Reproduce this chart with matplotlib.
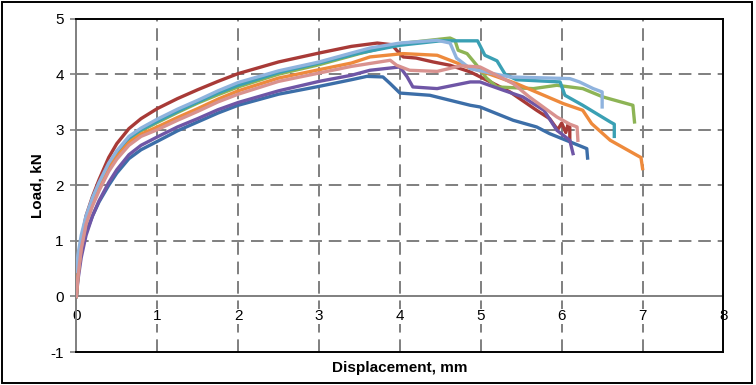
import numpy as np
import matplotlib.pyplot as plt
from matplotlib.patches import Rectangle

plt.rcParams['font.family'] = ['Liberation Sans', 'DejaVu Sans']
plt.rcParams['axes.unicode_minus'] = False

# load-displacement curves, one pair of lists per specimen
x_red = [0, 0.02, 0.06, 0.12, 0.2, 0.28, 0.4, 0.5, 0.65, 0.8, 1.0, 1.25, 1.5, 1.75, 2.0, 2.5, 3.0, 3.4,
         3.72, 3.9, 3.96, 4.04, 4.2, 4.41, 4.62, 4.87, 5.2, 5.36, 5.69, 5.85, 5.95, 6.0, 6.05, 6.08, 6.1, 6.1]
y_red = [0, 0.45, 1.0, 1.45, 1.8, 2.1, 2.5, 2.75, 3.02, 3.2, 3.38, 3.56, 3.72, 3.87, 4.01, 4.22, 4.38, 4.5,
         4.56, 4.53, 4.43, 4.31, 4.29, 4.22, 4.16, 4.04, 3.8, 3.68, 3.35, 3.2, 3.0, 3.12, 2.95, 3.1, 3.05, 2.8]

x_blue = [0, 0.02, 0.06, 0.12, 0.2, 0.28, 0.4, 0.5, 0.65, 0.8, 1.0, 1.25, 1.5, 1.75, 2.0, 2.5, 3.0, 3.4,
          3.59, 3.79, 3.88, 4.0, 4.37, 4.62, 4.87, 4.99, 5.4, 5.69, 5.85, 6.31, 6.32]
y_blue = [0.3, 0.5, 0.82, 1.15, 1.45, 1.7, 2.0, 2.22, 2.48, 2.64, 2.79, 2.98, 3.14, 3.3, 3.44, 3.64, 3.78, 3.9,
          3.96, 3.95, 3.83, 3.66, 3.62, 3.53, 3.44, 3.41, 3.17, 3.05, 2.93, 2.66, 2.49]

x_green = [0, 0.02, 0.06, 0.12, 0.2, 0.28, 0.4, 0.5, 0.65, 0.8, 1.0, 1.25, 1.5, 1.75, 2.0, 2.5, 3.0, 3.5,
           4.0, 4.62, 4.68, 4.72, 4.83, 4.95, 5.07, 5.2, 5.65, 5.94, 6.26, 6.51, 6.88, 6.9]
y_green = [0, 0.4, 0.92, 1.38, 1.72, 2.0, 2.35, 2.58, 2.83, 2.98, 3.13, 3.31, 3.48, 3.63, 3.77, 4.0, 4.17, 4.37,
           4.55, 4.65, 4.61, 4.43, 4.37, 4.16, 3.93, 3.77, 3.74, 3.8, 3.74, 3.59, 3.44, 3.14]

x_purple = [0, 0.02, 0.06, 0.12, 0.2, 0.28, 0.4, 0.5, 0.65, 0.8, 1.0, 1.25, 1.5, 1.75, 2.0, 2.5, 3.0, 3.4,
            3.63, 4.0, 4.09, 4.16, 4.46, 4.87, 4.99, 5.28, 5.52, 5.78, 5.94, 6.1, 6.14]
y_purple = [0, 0.3, 0.7, 1.1, 1.45, 1.72, 2.05, 2.28, 2.55, 2.72, 2.87, 3.05, 3.2, 3.36, 3.49, 3.7, 3.87, 3.98,
            4.07, 4.13, 3.95, 3.77, 3.74, 3.86, 3.86, 3.71, 3.59, 3.35, 2.99, 2.81, 2.57]

x_teal = [0, 0.02, 0.06, 0.12, 0.2, 0.28, 0.4, 0.5, 0.65, 0.8, 1.0, 1.25, 1.5, 1.75, 2.0, 2.5, 3.0, 3.5,
          4.0, 4.5, 4.96, 5.05, 5.2, 5.3, 5.44, 5.98, 6.04, 6.26, 6.6, 6.65, 6.65]
y_teal = [0, 0.4, 0.95, 1.4, 1.75, 2.02, 2.37, 2.6, 2.85, 3.0, 3.15, 3.33, 3.5, 3.66, 3.8, 4.03, 4.2, 4.38,
          4.52, 4.6, 4.6, 4.34, 4.24, 4.0, 3.9, 3.86, 3.62, 3.44, 3.14, 3.1, 2.88]

x_orange = [0, 0.02, 0.06, 0.12, 0.2, 0.28, 0.4, 0.5, 0.65, 0.8, 1.0, 1.25, 1.5, 1.75, 2.0, 2.5, 3.0, 3.4,
            3.63, 4.04, 4.46, 4.62, 4.83, 5.03, 5.44, 5.73, 6.02, 6.26, 6.37, 6.6, 6.93, 6.98, 7.0]
y_orange = [0, 0.38, 0.88, 1.33, 1.67, 1.95, 2.3, 2.52, 2.77, 2.92, 3.05, 3.22, 3.38, 3.55, 3.7, 3.93, 4.08, 4.2,
            4.31, 4.37, 4.34, 4.25, 4.13, 4.04, 3.83, 3.65, 3.47, 3.35, 3.11, 2.81, 2.54, 2.5, 2.3]

x_lblue = [0, 0.02, 0.06, 0.12, 0.2, 0.28, 0.4, 0.5, 0.65, 0.8, 1.0, 1.25, 1.5, 1.75, 2.0, 2.5, 3.0, 3.4,
           3.63, 4.0, 4.46, 4.62, 4.7, 4.87, 5.15, 5.36, 6.1, 6.22, 6.39, 6.5, 6.5]
y_lblue = [0.45, 0.75, 1.1, 1.45, 1.78, 2.05, 2.4, 2.62, 2.88, 3.03, 3.19, 3.37, 3.53, 3.7, 3.85, 4.06, 4.22, 4.38,
           4.47, 4.56, 4.61, 4.56, 4.29, 4.1, 4.01, 3.95, 3.92, 3.86, 3.74, 3.68, 3.41]

x_pink = [0, 0.02, 0.06, 0.12, 0.2, 0.28, 0.4, 0.5, 0.65, 0.8, 1.0, 1.25, 1.5, 1.75, 2.0, 2.5, 3.0, 3.4,
          3.88, 3.96, 4.12, 4.46, 4.75, 4.99, 5.1, 5.4, 5.6, 5.94, 6.1, 6.19, 6.2]
y_pink = [0, 0.35, 0.85, 1.3, 1.63, 1.9, 2.25, 2.47, 2.72, 2.88, 3.0, 3.17, 3.33, 3.5, 3.64, 3.87, 4.02, 4.14,
          4.25, 4.16, 4.07, 4.05, 4.15, 4.13, 4.05, 3.83, 3.59, 3.23, 3.1, 3.05, 2.81]

x_ticks = [0, 1, 2, 3, 4, 5, 6, 7, 8]
y_ticks = [-1, 0, 1, 2, 3, 4, 5]

fig = plt.figure(figsize=(7.56, 3.85), dpi=100)
ax = fig.add_axes([0.101, 0.0857, 0.856, 0.866])

grid_kw = dict(color='#7f7f7f', lw=1.4, ls=(0, (6.5, 3.5)), zorder=1)
for gx in x_ticks[1:-1]:
    ax.axvline(gx, **grid_kw)
for gy in y_ticks[2:-1]:
    ax.axhline(gy, **grid_kw)
ax.axhline(0, color='#7f7f7f', lw=1.4, zorder=1)

lw = 2.4
ax.plot(x_red, y_red, color='#A83A37', lw=lw, zorder=3)
ax.plot(x_blue, y_blue, color='#3C6EA8', lw=lw, zorder=3)
ax.plot(x_green, y_green, color='#8DB455', lw=lw, zorder=3)
ax.plot(x_purple, y_purple, color='#6F56A6', lw=lw, zorder=3)
ax.plot(x_teal, y_teal, color='#3AA0B4', lw=lw, zorder=3)
ax.plot(x_orange, y_orange, color='#EE8A3C', lw=lw, zorder=3)
ax.plot(x_lblue, y_lblue, color='#8FB3DE', lw=lw, zorder=3)
ax.plot(x_pink, y_pink, color='#D9928F', lw=lw, zorder=3)

ax.set_xlim(0, 8)
ax.set_ylim(-1, 5)
ax.set_yticks(y_ticks)
ax.set_xticks(x_ticks)
ax.set_xticklabels([])
for tx in x_ticks:
    ax.text(tx, -0.36, str(tx), ha='center', va='center', fontsize=11, zorder=2,
            bbox=dict(facecolor='white', edgecolor='none', pad=0.5))
ax.tick_params(axis='x', length=0)
ax.tick_params(axis='y', length=4, width=1.2, color='#7f7f7f', labelsize=11, pad=5)

for s in ['top', 'right', 'bottom']:
    ax.spines[s].set_color('black')
    ax.spines[s].set_linewidth(1.4)
ax.spines['left'].set_color('#7f7f7f')
ax.spines['left'].set_linewidth(1.4)

ax.set_xlabel('Displacement, mm', fontsize=11, fontweight='bold', labelpad=3)
ax.set_ylabel('Load, kN', fontsize=11, fontweight='bold', labelpad=4)

fig.patches.append(Rectangle((1.5 / 756, 2 / 385), 750 / 756, 381 / 385, transform=fig.transFigure,
                             fill=False, edgecolor='black', lw=1.4))

fig.savefig('out.png', dpi=100)
